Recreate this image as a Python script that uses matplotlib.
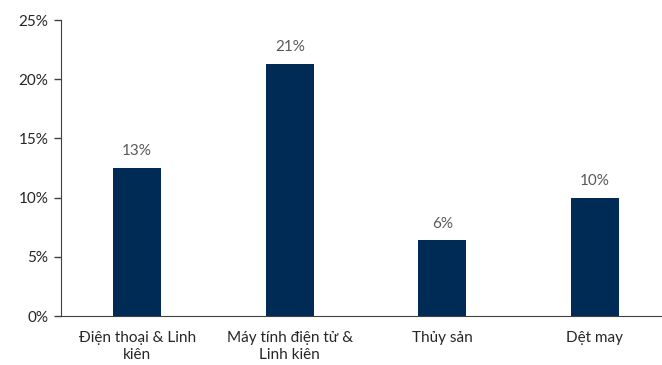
import matplotlib
matplotlib.use("Agg")
import matplotlib.pyplot as plt
from matplotlib.ticker import PercentFormatter

plt.rcParams['font.family'] = ['Lato', 'DejaVu Sans']

categories = ['Điện thoại & Linh\nkiên', 'Máy tính điện tử &\nLinh kiên', 'Thủy sản', 'Dệt may']
values = [12.5, 21.3, 6.4, 10.0]
labels = ['13%', '21%', '6%', '10%']

fig = plt.figure(figsize=(6.62, 3.65), dpi=100)
ax = fig.add_axes([0.092, 0.134, 0.908, 0.811])

x = range(len(categories))
bars = ax.bar(x, values, width=0.315, color='#002b55')

# nhãn giá trị trên cột
for b, lab in zip(bars, labels):
    ax.annotate(lab, (b.get_x() + b.get_width() / 2, b.get_height()),
                xytext=(0, 7), textcoords='offset points',
                ha='center', va='bottom', fontsize=11, color='#595959')

ax.set_ylim(0, 25)
ax.set_yticks([0, 5, 10, 15, 20, 25])
ax.yaxis.set_major_formatter(PercentFormatter(decimals=0))
ax.set_xlim(-0.5, 3.44)
ax.set_xticks(list(x))
ax.set_xticklabels(categories, fontsize=11, color='#262626', linespacing=1.25)
ax.tick_params(axis='x', length=0, pad=11)
ax.tick_params(axis='y', length=5, width=1, labelsize=11, labelcolor='#262626', pad=4, color='#404040')

for s in ['top', 'right']:
    ax.spines[s].set_visible(False)
ax.spines['left'].set_color('#404040')
ax.spines['bottom'].set_color('#404040')

fig.savefig('out.png', dpi=100)
